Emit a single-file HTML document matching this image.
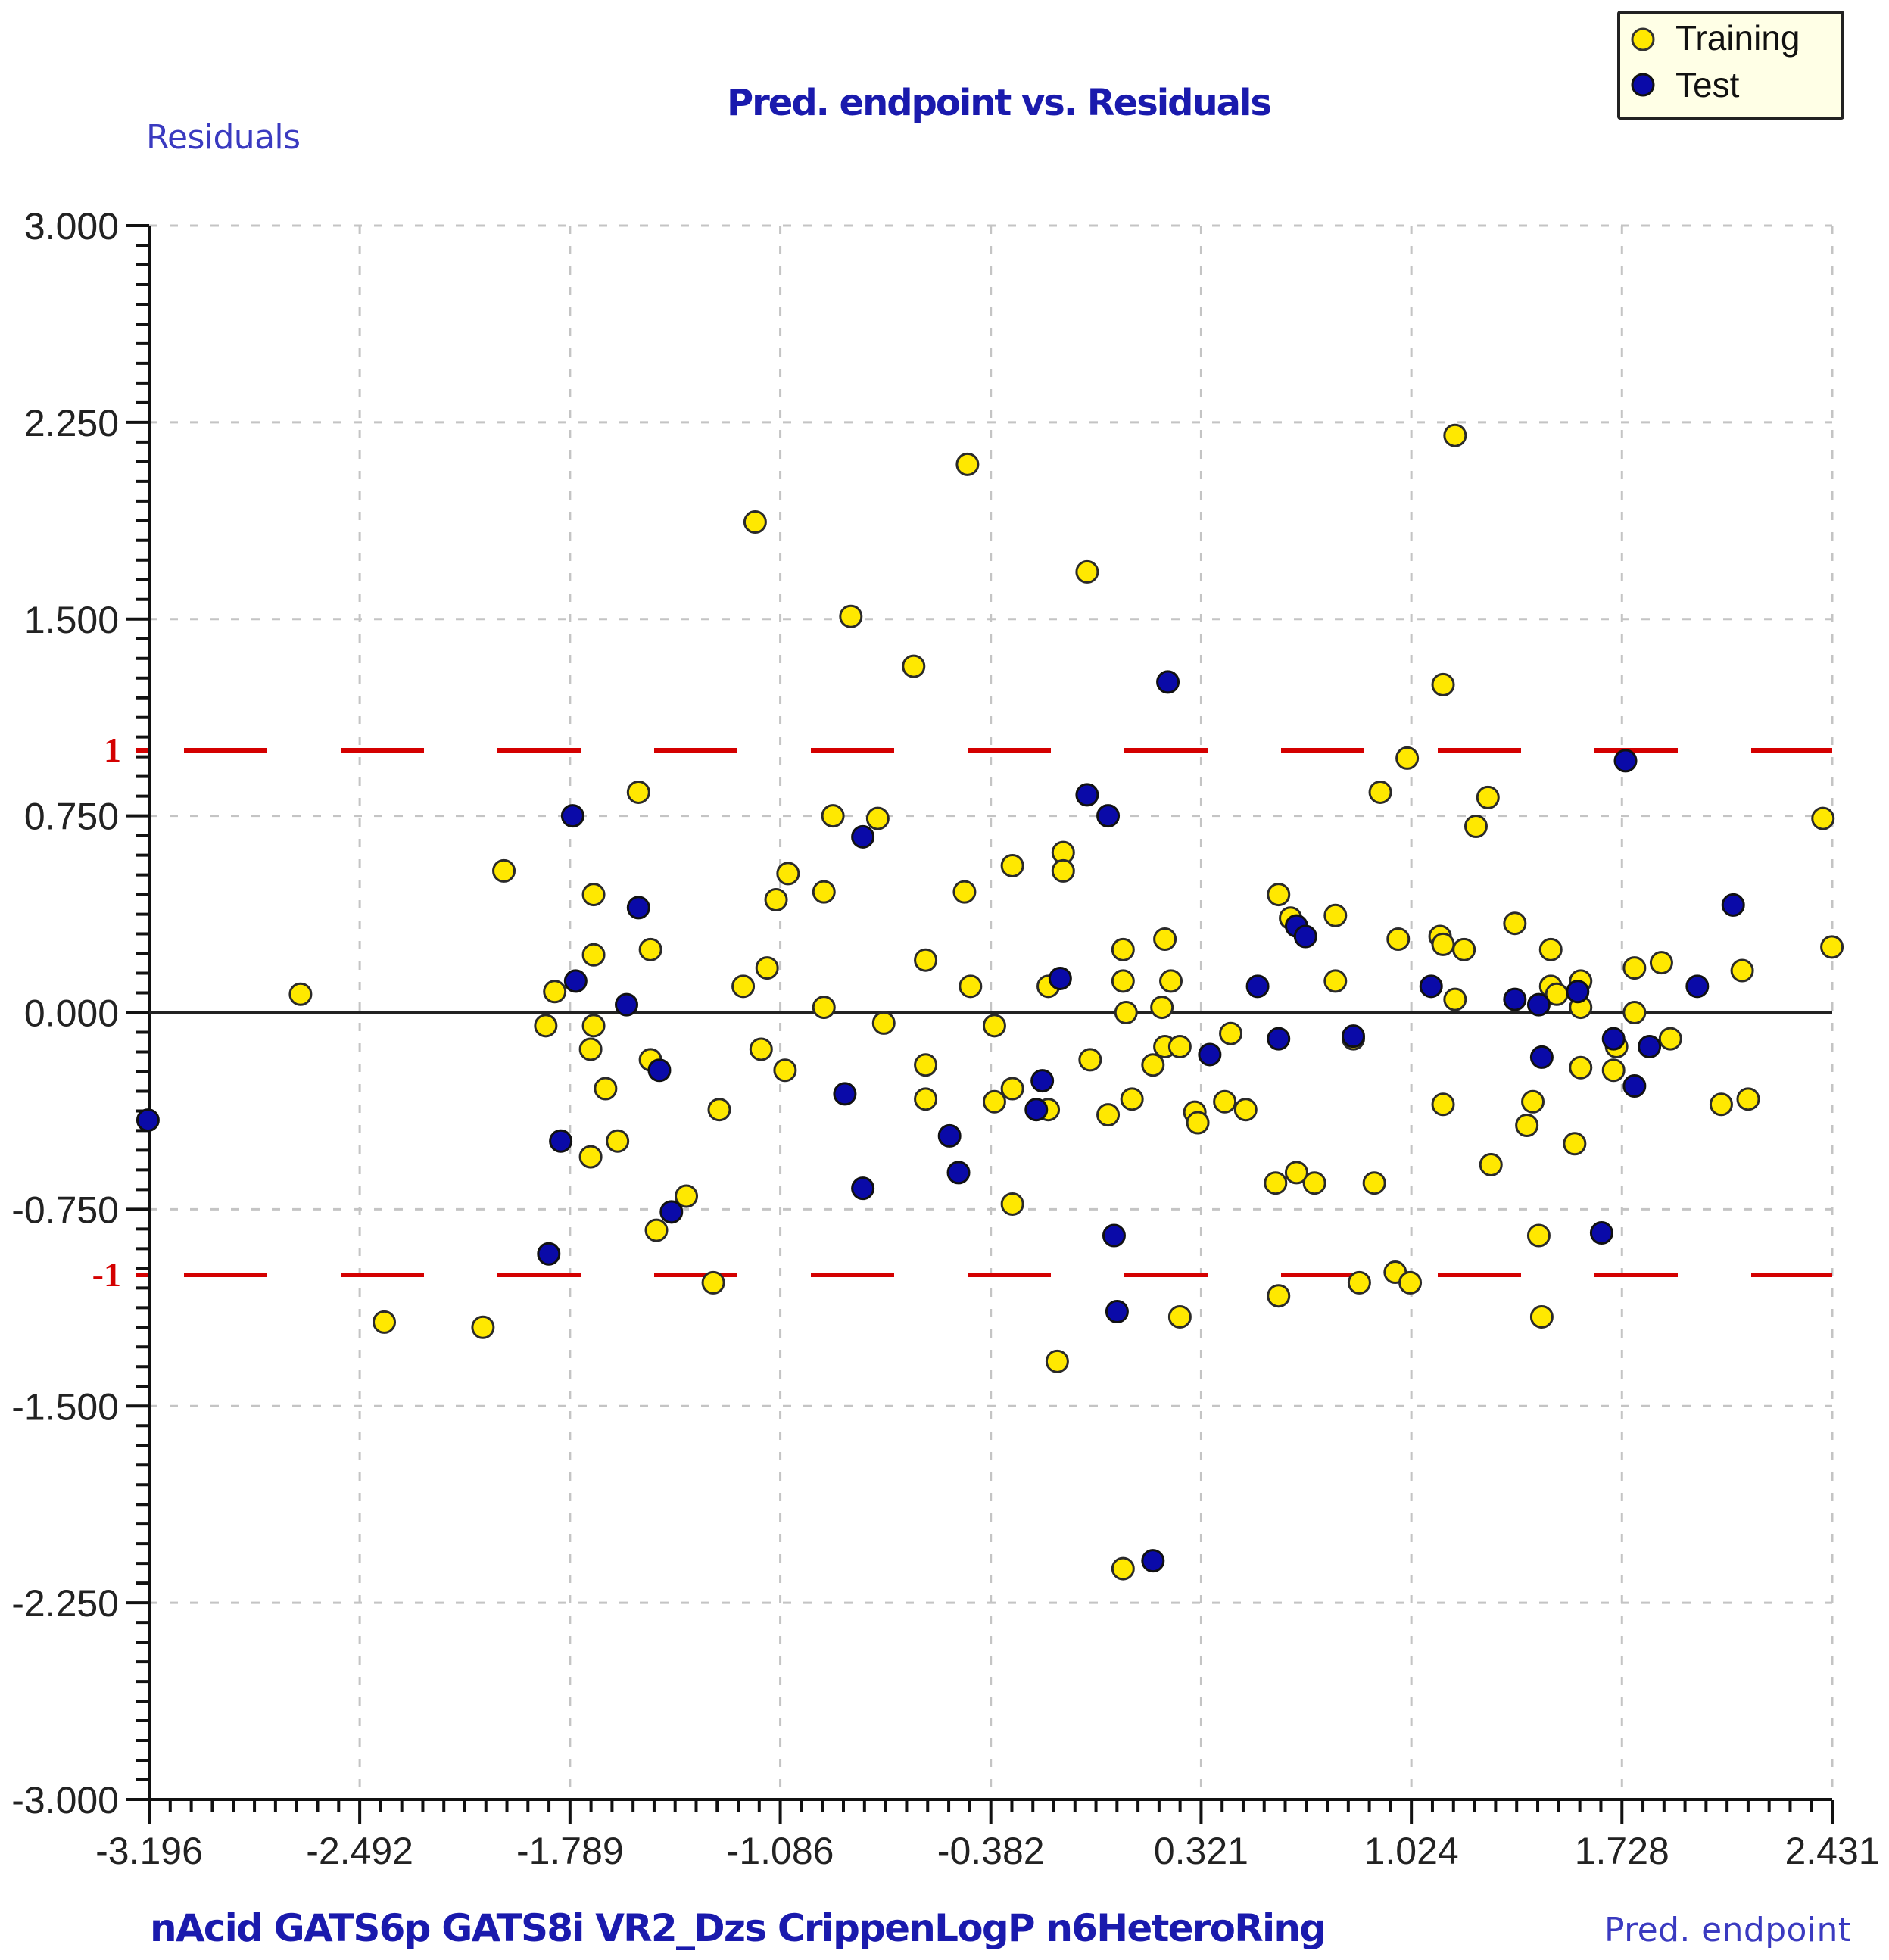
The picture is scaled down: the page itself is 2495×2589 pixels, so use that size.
<!DOCTYPE html>
<html><head><meta charset="utf-8"><style>
html,body{margin:0;padding:0;background:#fff;}
svg{display:block;}
</style></head><body>
<svg id="chart" width="2495" height="2589" viewBox="0 0 2495 2589" xmlns="http://www.w3.org/2000/svg">
<rect x="0" y="0" width="2495" height="2589" fill="#ffffff"/>
<text x="1320" y="152" text-anchor="middle" font-family="'DejaVu Sans','Liberation Sans',sans-serif" font-weight="bold" font-size="48" fill="#1a1aad" textLength="720">Pred. endpoint vs. Residuals</text>
<text x="193" y="196" font-family="'DejaVu Sans','Liberation Sans',sans-serif" font-size="44" fill="#3a3ac0" textLength="204">Residuals</text>
<text x="198" y="2564" font-family="'DejaVu Sans','Liberation Sans',sans-serif" font-weight="bold" font-size="50" fill="#1a1aad" textLength="1554">nAcid  GATS6p  GATS8i  VR2_Dzs  CrippenLogP  n6HeteroRing</text>
<text x="2445" y="2564" text-anchor="end" font-family="'DejaVu Sans','Liberation Sans',sans-serif" font-size="44" fill="#3a3ac0" textLength="326">Pred. endpoint</text>
<g id="grid"></g><g id="axes"></g><g id="refs"></g><g id="marks"></g>
<g>
<rect x="2138" y="16" width="296" height="140" fill="#ffffe6" stroke="#222" stroke-width="4" rx="2"/>
<circle cx="2170" cy="52" r="14" fill="#ffe800" stroke="#333" stroke-width="3"/>
<text x="2213" y="66" font-family="'Liberation Sans',sans-serif" font-size="46" fill="#111">Training</text>
<circle cx="2170" cy="112" r="14" fill="#0a0aa8" stroke="#111" stroke-width="3"/>
<text x="2213" y="128" font-family="'Liberation Sans',sans-serif" font-size="46" fill="#111">Test</text>
</g>
</svg>
<script>
const xTicks = [-3.196, -2.492, -1.789, -1.086, -0.382, 0.321, 1.024, 1.728, 2.431];
const xTickLabels = ["-3.196","-2.492","-1.789","-1.086","-0.382","0.321","1.024","1.728","2.431"];
const yTicks = [3, 2.25, 1.5, 0.75, 0, -0.75, -1.5, -2.25, -3];
const yTickLabels = ["3.000","2.250","1.500","0.750","0.000","-0.750","-1.500","-2.250","-3.000"];
const refLevels = [1, -1];
const refLabels = ["1", "-1"];
const trainX = [-2.69,-2.41,-2.08,-2.01,-1.17,-0.85,-0.64,-0.46,-0.06,1.17,1.13,1.01,0.92,1.28,1.24,2.40,2.43,-1.56,-0.91,-0.76,-0.14,-0.14,-0.31,-1.06,-1.10,-0.94,-0.47,-1.71,0.58,0.62,0.77,0.98,1.12,1.13,1.20,1.37,1.49,0.20,0.06,-1.71,-1.52,-0.60,-1.13,-1.21,-0.45,-0.19,0.06,0.22,0.77,1.77,1.86,2.13,1.59,1.49,1.51,1.17,-1.84,-0.94,0.19,0.07,1.59,1.77,-1.87,-1.71,-0.74,-0.37,-1.72,-1.15,0.20,0.25,0.42,0.83,1.89,1.71,-1.52,-1.07,-0.60,-0.05,0.16,1.59,1.70,-1.67,-0.31,-0.60,-0.37,-1.29,-0.19,0.01,0.09,0.30,0.31,0.40,0.47,1.13,1.43,1.41,2.06,2.15,-1.63,-1.72,1.57,1.29,0.57,0.64,0.70,0.90,-1.40,-1.50,-0.31,1.45,-1.31,0.85,0.97,1.02,0.58,0.25,1.46,-0.16,0.06];
const trainY = [0.07,-1.18,-1.20,0.54,1.87,1.51,1.32,2.09,1.68,2.20,1.25,0.97,0.84,0.82,0.71,0.74,0.25,0.84,0.75,0.74,0.61,0.54,0.56,0.53,0.43,0.46,0.46,0.45,0.45,0.36,0.37,0.28,0.29,0.26,0.24,0.34,0.24,0.28,0.24,0.22,0.24,0.20,0.17,0.10,0.10,0.10,0.12,0.12,0.12,0.17,0.19,0.16,0.12,0.10,0.07,0.05,0.08,0.02,0.02,0.00,0.02,0.00,-0.05,-0.05,-0.04,-0.05,-0.14,-0.14,-0.13,-0.13,-0.08,-0.10,-0.10,-0.13,-0.18,-0.22,-0.20,-0.18,-0.20,-0.21,-0.22,-0.29,-0.29,-0.33,-0.34,-0.37,-0.37,-0.39,-0.33,-0.38,-0.42,-0.34,-0.37,-0.35,-0.34,-0.43,-0.35,-0.33,-0.49,-0.55,-0.50,-0.58,-0.65,-0.61,-0.65,-0.65,-0.70,-0.83,-0.73,-0.85,-1.03,-1.03,-0.99,-1.03,-1.08,-1.16,-1.16,-1.33,-2.12];
const testX = [-3.20,-1.78,-1.56,-1.77,-1.60,-1.49,-1.82,-1.86,-1.45,-0.81,-0.87,-0.81,-0.52,-0.49,0.21,-0.06,0.01,-0.15,-0.21,-0.23,0.35,0.51,0.58,0.64,0.67,0.83,1.09,1.37,1.45,1.46,1.58,1.74,2.10,1.98,1.70,1.82,1.77,1.66,0.03,0.04,0.16];
const testY = [-0.41,0.75,0.40,0.12,0.03,-0.22,-0.49,-0.92,-0.76,0.67,-0.31,-0.67,-0.47,-0.61,1.26,0.83,0.75,0.13,-0.26,-0.37,-0.16,0.10,-0.10,0.33,0.29,-0.09,0.10,0.05,0.03,-0.17,0.08,0.96,0.41,0.10,-0.10,-0.13,-0.28,-0.84,-0.85,-1.14,-2.09];

const NS = "http://www.w3.org/2000/svg";
const X0 = 197, X1 = 2420, Y0 = 298, Y1 = 2377;
const xMin = -3.196, xMax = 2.431, yMin = -3, yMax = 3;
function sx(v){ return X0 + (v - xMin) / (xMax - xMin) * (X1 - X0); }
function sy(v){ return Y1 - (v - yMin) / (yMax - yMin) * (Y1 - Y0); }
function mk(tag, attrs, parent){ const e = document.createElementNS(NS, tag); for (const k in attrs) e.setAttribute(k, attrs[k]); parent.appendChild(e); return e; }

const grid = document.getElementById('grid');
const axes = document.getElementById('axes');
const refs = document.getElementById('refs');
const marks = document.getElementById('marks');

xTicks.forEach((v, i) => {
  if (i === 0) return;
  const l = mk('line', {x1: sx(v), x2: sx(v), y1: Y0, y2: Y1, stroke: '#c4c4c4', 'stroke-width': 3, 'stroke-dasharray': '11 16'}, grid);
  
  
});
yTicks.forEach((v) => {
  if (v === yMin || v === 0) return;
  const l = mk('line', {x1: X0, x2: X1, y1: sy(v), y2: sy(v), stroke: '#c4c4c4', 'stroke-width': 3, 'stroke-dasharray': '11 16'}, grid);
  
  
});

const yAxis = mk('line', {x1: X0, x2: X0, y1: Y0, y2: Y1 + 2, stroke: '#111', 'stroke-width': 4}, axes);


const xAxis = mk('line', {x1: X0 - 2, x2: X1, y1: Y1, y2: Y1, stroke: '#111', 'stroke-width': 4}, axes);


const zero = mk('line', {x1: X0, x2: X1, y1: sy(0), y2: sy(0), stroke: '#222', 'stroke-width': 3}, axes);



for (let i = 0; i < yTicks.length; i++) {
  const v = yTicks[i];
  const t = mk('line', {x1: X0 - 30, x2: X0, y1: sy(v), y2: sy(v), stroke: '#111', 'stroke-width': 4}, axes);
  
  
  const lab = mk('text', {x: X0 - 40, y: sy(v) + 18, 'text-anchor': 'end', 'font-family': "'Liberation Sans',sans-serif", 'font-size': 50, fill: '#222'}, axes);
  lab.textContent = yTickLabels[i];
  
  
  if (i < yTicks.length - 1) {
    for (let k = 1; k < 10; k++) {
      const mv = v + (yTicks[i + 1] - v) * k / 10;
      const m = mk('line', {x1: X0 - 17, x2: X0, y1: sy(mv), y2: sy(mv), stroke: '#111', 'stroke-width': 4}, axes);
      
      
    }
  }
}
for (let i = 0; i < xTicks.length; i++) {
  const v = xTicks[i];
  const t = mk('line', {x1: sx(v), x2: sx(v), y1: Y1, y2: Y1 + 33, stroke: '#111', 'stroke-width': 4}, axes);
  
  
  const lab = mk('text', {x: sx(v), y: Y1 + 85, 'text-anchor': 'middle', 'font-family': "'Liberation Sans',sans-serif", 'font-size': 50, fill: '#222'}, axes);
  lab.textContent = xTickLabels[i];
  
  
  if (i < xTicks.length - 1) {
    for (let k = 1; k < 10; k++) {
      const mv = v + (xTicks[i + 1] - v) * k / 10;
      const m = mk('line', {x1: sx(mv), x2: sx(mv), y1: Y1, y2: Y1 + 17, stroke: '#111', 'stroke-width': 4}, axes);
      
      
    }
  }
}

refLevels.forEach((v, i) => {
  const s = mk('line', {x1: 180, x2: 196, y1: sy(v), y2: sy(v), stroke: '#d40000', 'stroke-width': 6}, refs);
  
  
  const l = mk('line', {x1: 243, x2: X1, y1: sy(v), y2: sy(v), stroke: '#d40000', 'stroke-width': 6, 'stroke-dasharray': '110 97'}, refs);
  
  
  const t = mk('text', {x: 160, y: sy(v) + 15, 'text-anchor': 'end', 'font-family': "'Liberation Serif',serif", 'font-weight': 'bold', 'font-size': 46, fill: '#d40000'}, refs);
  t.textContent = refLabels[i];
  
  
});

trainX.forEach((v, i) => {
  const c = mk('circle', {cx: sx(v), cy: sy(trainY[i]), r: 14, fill: '#ffe800', stroke: '#2a2a2a', 'stroke-width': 3}, marks);
  
  
});
testX.forEach((v, i) => {
  const c = mk('circle', {cx: sx(v), cy: sy(testY[i]), r: 14, fill: '#0a0aa8', stroke: '#111', 'stroke-width': 3}, marks);
  
  
});
</script>
</body></html>
